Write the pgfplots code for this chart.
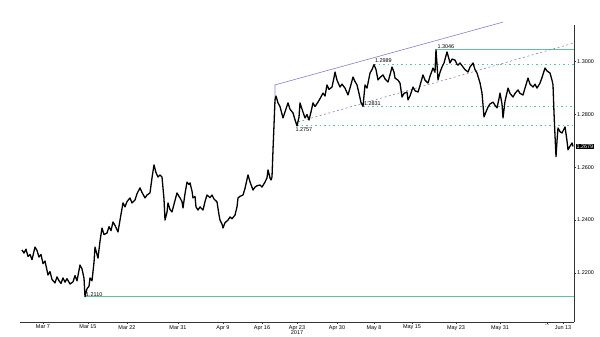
\documentclass[border=0pt]{standalone}
\usepackage{pgfplots}
\pgfplotsset{compat=1.18}
\usepackage{fontspec}
\setmainfont{Liberation Sans}
\definecolor{lvl}{RGB}{100,195,150}
\definecolor{trend}{RGB}{130,130,200}
\newcommand{\tf}{\fontsize{5.5}{5.9}\selectfont}
\begin{document}
\begin{tikzpicture}
\begin{axis}[
 scale only axis, width=554bp, height=297bp,
 xmin=20, xmax=574, ymin=1.2014, ymax=1.3139,
 axis x line*=bottom, axis y line*=right,
 axis line style={-, black!80, line width=0.8bp},
 clip=false,
 xtick={43,88,127,178,223,262,297,337,374,412,456,500,547,563},
 xticklabels={Mar 7,Mar 15,Mar 22,Mar 31,Apr 9,Apr 16,{Apr 23\\2017},Apr 30,May 8,May 15,May 23,May 31,{\ldots},Jun 13},
 xticklabel style={font=\tf, align=center, inner sep=1pt},
 ytick={1.22,1.24,1.26,1.28,1.30},
 yticklabel style={font=\tf, inner sep=1pt, /pgf/number format/fixed, /pgf/number format/fixed zerofill, /pgf/number format/precision=4},
 /pgf/number format/assume math mode=true,
 tick align=outside, major tick length=2bp, minor tick length=1.2bp,
 minor x tick num=4, minor y tick num=1,
 tick style={black!80, line width=0.5bp},
]
\path (axis cs:0,1.19572) rectangle (axis cs:600,1.32337);
% levels
\addplot[lvl, line width=1bp] coordinates {(85,1.2110) (574,1.2110)};
\addplot[lvl, line width=1bp] coordinates {(437,1.3046) (574,1.3046)};
\addplot[lvl, line width=1.1bp, dash pattern=on 1.5bp off 3bp] coordinates {(297,1.2757) (574,1.2757)};
\addplot[lvl, line width=1.1bp, dash pattern=on 1.5bp off 3bp] coordinates {(363,1.2831) (574,1.2831)};
\addplot[lvl, line width=1.1bp, dash pattern=on 1.5bp off 3bp] coordinates {(374,1.2989) (574,1.2989)};
% trend lines
\addplot[trend, line width=0.6bp] coordinates {(275,1.2855) (275,1.2912) (503,1.3150)};
\addplot[trend, line width=0.6bp, dash pattern=on 2bp off 2.5bp] coordinates {(298,1.2772) (574,1.3071)};
% price
\addplot[black, line width=1.3bp, line join=round] table {
x y
22 1.2287
24 1.2275
26 1.2290
28 1.2262
30 1.2270
32 1.2250
35 1.2298
37 1.2285
39 1.2260
41 1.2270
43 1.2235
45 1.2245
48 1.2192
50 1.2205
52 1.2175
55 1.2162
57 1.2185
59 1.2170
61 1.2160
63 1.2181
65 1.2165
67 1.2178
70 1.2158
73 1.2166
75 1.2190
77 1.2170
80 1.2230
82 1.2215
84 1.2180
85 1.2110
87 1.2140
89 1.2150
90 1.2181
92 1.2170
94 1.2240
95 1.2298
97 1.2270
98 1.2256
100 1.2320
102 1.2370
104 1.2345
107 1.2351
109 1.2375
111 1.2360
113 1.2393
115 1.2380
118 1.2355
120 1.2400
123 1.2465
125 1.2450
127 1.2470
130 1.2484
132 1.2465
135 1.2476
137 1.2500
140 1.2522
142 1.2505
145 1.2484
147 1.2495
150 1.2503
152 1.2560
154 1.2609
156 1.2580
158 1.2563
160 1.2571
162 1.2563
164 1.2480
165 1.2400
167 1.2430
168 1.2465
170 1.2440
172 1.2431
174 1.2460
177 1.2503
179 1.2490
180 1.2484
182 1.2470
183 1.2446
185 1.2500
187 1.2544
189 1.2535
190 1.2541
192 1.2510
193 1.2484
195 1.2490
196 1.2450
198 1.2438
200 1.2450
203 1.2438
205 1.2470
207 1.2495
210 1.2485
212 1.2495
214 1.2480
217 1.2469
219 1.2420
220 1.2400
222 1.2385
223 1.2370
225 1.2390
228 1.2400
230 1.2412
232 1.2405
235 1.2419
237 1.2450
238 1.2484
240 1.2490
243 1.2495
245 1.2520
248 1.2571
250 1.2545
253 1.2514
255 1.2525
257 1.2530
260 1.2533
262 1.2525
265 1.2544
267 1.2560
268 1.2590
270 1.2560
271 1.2552
272 1.2563
273 1.2666
274 1.2760
275 1.2855
276 1.2870
278 1.2844
280 1.2830
283 1.2787
285 1.2810
288 1.2844
290 1.2820
293 1.2806
295 1.2780
297 1.2757
299 1.2790
300 1.2844
302 1.2820
305 1.2787
307 1.2800
309 1.2779
311 1.2810
313 1.2844
315 1.2830
318 1.2847
320 1.2860
323 1.2881
325 1.2870
327 1.2912
329 1.2895
332 1.2904
334 1.2940
335 1.2961
337 1.2930
340 1.2904
342 1.2915
345 1.2900
348 1.2874
350 1.2900
353 1.2942
355 1.2925
357 1.2912
359 1.2880
361 1.2845
363 1.2831
365 1.2912
367 1.2900
370 1.2957
372 1.2970
374 1.2989
376 1.2970
378 1.2931
380 1.2940
383 1.2950
385 1.2935
388 1.2923
390 1.2950
392 1.2980
394 1.2960
395 1.2938
398 1.2930
400 1.2919
402 1.2866
404 1.2880
407 1.2885
408 1.2855
410 1.2870
413 1.2904
415 1.2890
418 1.2885
420 1.2910
423 1.2950
425 1.2930
428 1.2919
430 1.2945
433 1.2976
435 1.2960
436 1.3046
437 1.2990
438 1.2931
440 1.2960
442 1.2980
444 1.2995
447 1.3037
449 1.3010
450 1.2995
452 1.3010
455 1.3006
457 1.2990
458 1.2987
460 1.2995
463 1.2980
465 1.2970
468 1.2961
470 1.2980
473 1.2995
475 1.2970
477 1.2957
480 1.2920
482 1.2881
484 1.2791
486 1.2810
488 1.2828
490 1.2840
493 1.2847
495 1.2835
497 1.2825
499 1.2860
500 1.2881
502 1.2840
503 1.2787
505 1.2850
508 1.2900
510 1.2880
513 1.2866
515 1.2880
518 1.2893
520 1.2880
523 1.2874
525 1.2900
528 1.2938
530 1.2915
533 1.2904
535 1.2915
537 1.2900
540 1.2919
542 1.2940
545 1.2976
547 1.2965
550 1.2957
552 1.2930
553 1.2912
554 1.2806
555 1.2720
556 1.2640
557 1.2700
558 1.2749
560 1.2735
562 1.2730
564 1.2745
565 1.2753
567 1.2700
568 1.2666
570 1.2680
572 1.2692
573 1.2679
};
% annotations
\node[anchor=south west, inner sep=0.3pt, font=\tf] at (axis cs:85.5,1.2110) {1.2110};
\node[anchor=north west, inner sep=0.3pt, font=\tf] at (axis cs:295,1.2752) {1.2757};
\node[anchor=base west, inner sep=0.3pt, font=\tf] at (axis cs:363.5,1.2833) {1.2831};
\node[anchor=south west, inner sep=0.3pt, font=\tf] at (axis cs:374.5,1.2995) {1.2989};
\node[anchor=south west, inner sep=0.3pt, font=\tf] at (axis cs:437,1.3048) {1.3046};
\node[anchor=west, fill=black, text=white, inner sep=0.8pt, font=\tf] at (axis cs:575.5,1.2679) {1.2679};
\end{axis}
\end{tikzpicture}
\end{document}
